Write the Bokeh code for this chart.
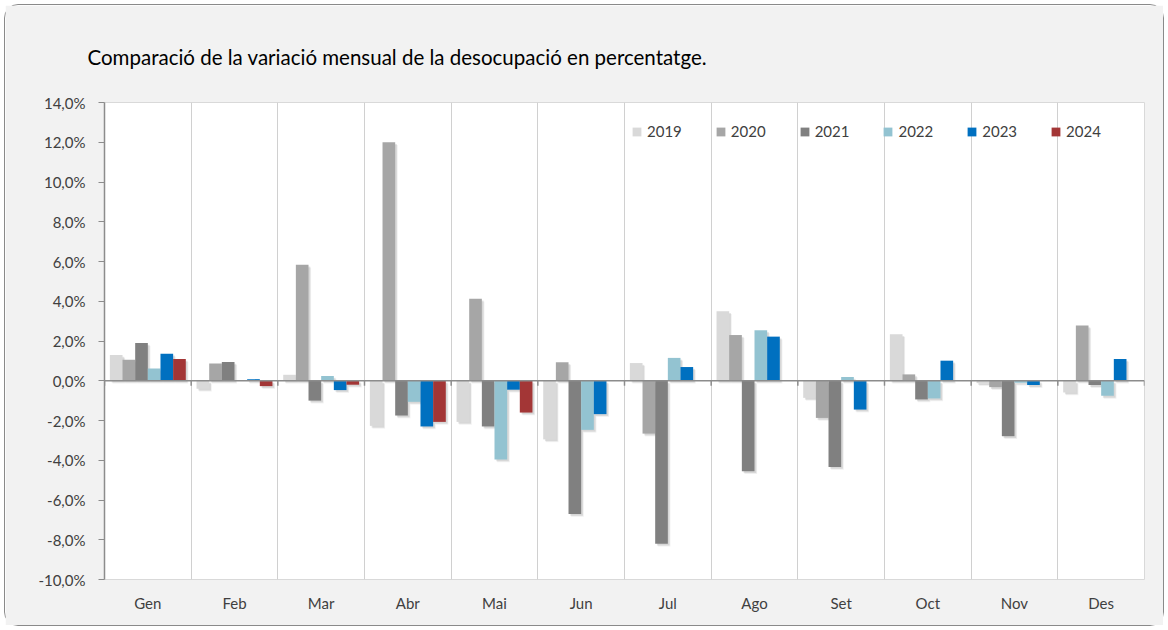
import math
from bokeh.plotting import figure
from bokeh.models import ColumnDataSource, FixedTicker, Span, Legend, LegendItem, Title
from bokeh.embed import file_html
from bokeh.resources import INLINE

nan = float("nan")

months = ["Gen", "Feb", "Mar", "Abr", "Mai", "Jun", "Jul", "Ago", "Set", "Oct", "Nov", "Des"]
years = ["2019", "2020", "2021", "2022", "2023", "2024"]
v2019 = [1.3, -0.4, 0.3, -2.27, -2.07, -2.95, 0.89, 3.5, -0.86, 2.34, -0.12, -0.59]
v2020 = [1.06, 0.87, 5.84, 12.0, 4.13, 0.93, -2.66, 2.3, -1.87, 0.32, -0.32, 2.78]
v2021 = [1.9, 0.94, -1.0, -1.75, -2.3, -6.7, -8.2, -4.55, -4.34, -0.94, -2.79, -0.22]
v2022 = [0.62, 0.0, 0.24, -1.06, -3.96, -2.47, 1.15, 2.54, 0.19, -0.89, -0.1, -0.76]
v2023 = [1.36, 0.08, -0.47, -2.3, -0.45, -1.68, 0.69, 2.22, -1.45, 1.01, -0.22, 1.1]
v2024 = [1.1, -0.27, -0.2, -2.07, -1.6, nan, nan, nan, nan, nan, nan, nan]
series = [v2019, v2020, v2021, v2022, v2023, v2024]
colors = ["#d9d9d9", "#a6a6a6", "#808080", "#93c3d1", "#0070c0", "#a33636"]

y_ticks = [-10, -8, -6, -4, -2, 0, 2, 4, 6, 8, 10, 12, 14]
y_tick_labels = ["-10,0%", "-8,0%", "-6,0%", "-4,0%", "-2,0%", "0,0%", "2,0%",
                 "4,0%", "6,0%", "8,0%", "10,0%", "12,0%", "14,0%"]

title_text = "Comparació de la variació mensual de la desocupació en percentatge."

FONT = "Lato"

p = figure(width=1160, height=622, x_range=(-0.5, 11.5), y_range=(-10, 14),
           output_backend="svg", toolbar_location=None, title=None,
           min_border_left=99, min_border_right=21, min_border_top=97, min_border_bottom=48)
p.border_fill_color = "#f2f2f2"
p.background_fill_color = "white"
p.outline_line_color = "#d9d9d9"
p.styles = {"border": "1.5px solid #8a8a8a", "border-radius": "14px",
            "margin-left": "4px", "margin-top": "4px"}

# spacer (closest to frame) then the real title above it
p.add_layout(Title(text=" ", text_font_size="16px"), "above")
p.add_layout(Title(text=title_text, align="left", offset=-17, text_font=FONT,
                   text_font_size="20.5px", text_font_style="normal", text_color="black"),
             "above")

bw = 0.146
idx = list(range(len(months)))
items = []
# soft shadows under the bars
for j, vals in enumerate(series):
    for k, (dx, dy, a) in enumerate([(0.02, 0.09, 0.10), (0.03, 0.14, 0.06)]):
        xs = [i + (j - 2.5) * bw + dx for i in idx]
        tops = [v - dy if v == v else nan for v in vals]
        bots = [-dy if v == v else nan for v in vals]
        p.vbar(x=xs, top=tops, bottom=bots, width=bw, fill_color="black", fill_alpha=a, line_color=None)
for j, vals in enumerate(series):
    xs = [i + (j - 2.5) * bw for i in idx]
    src = ColumnDataSource(dict(x=xs, top=vals))
    r = p.vbar(x="x", top="top", bottom=0, width=bw, source=src, fill_color=colors[j], line_color=None)
    items.append(LegendItem(label=years[j], renderers=[r]))

# zero line and small ticks at category boundaries
p.add_layout(Span(location=0, dimension="width", line_color="#8c8c8c", line_width=1.5))
bounds = [i - 0.5 for i in range(len(months) + 1)]
p.segment(x0=bounds, x1=bounds, y0=[0] * len(bounds), y1=[-0.25] * len(bounds),
          line_color="#8c8c8c", line_width=1.5)

# axes
p.xaxis.ticker = FixedTicker(ticks=idx)
p.xaxis.major_label_overrides = {i: m for i, m in zip(idx, months)}
p.xaxis.axis_line_color = None
p.xaxis.major_tick_line_color = None
p.xaxis.minor_tick_line_color = None
p.xaxis.major_label_standoff = 8
p.xaxis.major_label_text_font = FONT
p.xaxis.major_label_text_font_size = "15px"
p.xaxis.major_label_text_color = "#404040"

p.yaxis.ticker = FixedTicker(ticks=y_ticks)
p.yaxis.major_label_overrides = {t: l for t, l in zip(y_ticks, y_tick_labels)}
p.yaxis.axis_line_color = "#8c8c8c"
p.yaxis.axis_line_width = 1.5
p.yaxis.major_tick_line_color = "#8c8c8c"
p.yaxis.major_tick_out = 6
p.yaxis.major_tick_in = 0
p.yaxis.minor_tick_line_color = None
p.yaxis.major_label_text_font = FONT
p.yaxis.major_label_text_font_size = "15px"
p.yaxis.major_label_text_color = "#404040"
p.yaxis.major_label_standoff = 13

p.xgrid.ticker = FixedTicker(ticks=bounds)
p.xgrid.grid_line_color = "#d0d0d0"
p.ygrid.visible = False

legend = Legend(items=items, orientation="horizontal", location=(527, 439),
                background_fill_alpha=0, border_line_color=None,
                glyph_width=11, glyph_height=11, label_standoff=5, spacing=33,
                margin=0, padding=6, label_text_font=FONT, label_text_font_size="15px",
                label_text_color="#404040")
p.add_layout(legend)

open("out.html", "w").write(file_html(p, INLINE))
